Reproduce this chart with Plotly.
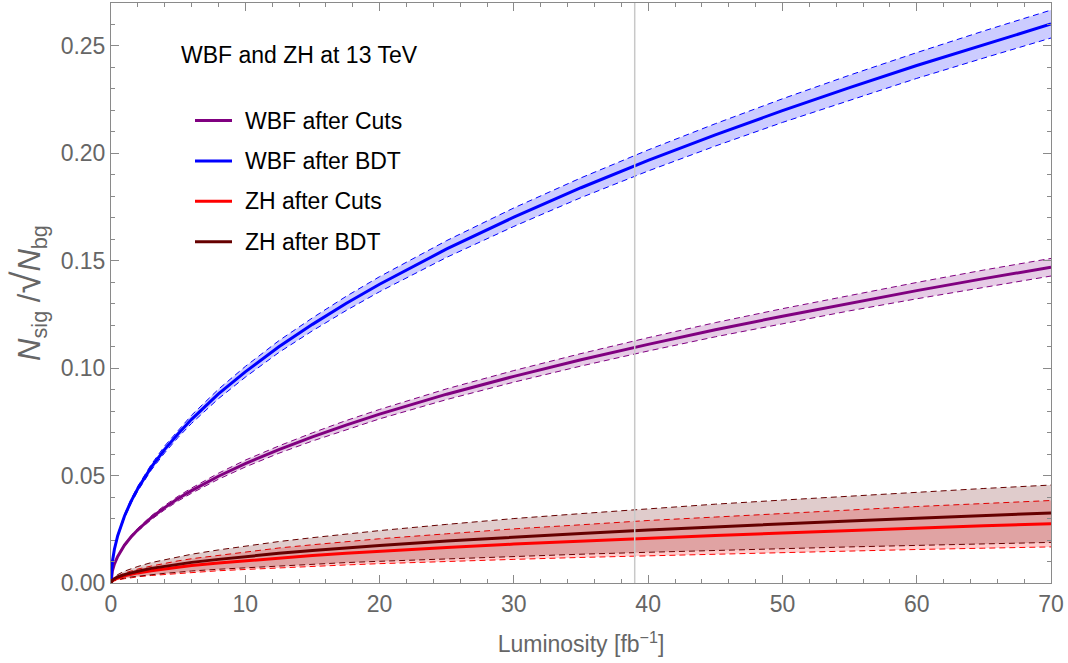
import plotly.graph_objects as go

# Luminosity sample points [fb^-1]
lumi = [0, 0.1, 0.25, 0.5, 1, 1.5, 2, 3, 4, 5, 6, 8, 10, 12.5, 15, 17.5, 20,
        25, 30, 35, 40, 45, 50, 55, 60, 65, 70]

# WBF after BDT (blue)
wbf_bdt = [0, 0.0098, 0.0156, 0.0220, 0.0311, 0.0381, 0.0440, 0.0539, 0.0622, 0.0695,
           0.0762, 0.0880, 0.0983, 0.1100, 0.1204, 0.1301, 0.1391, 0.1555, 0.1703,
           0.1840, 0.1967, 0.2086, 0.2199, 0.2306, 0.2409, 0.2507, 0.2602]
wbf_bdt_hi = [0, 0.0100, 0.0160, 0.0226, 0.0319, 0.0391, 0.0451, 0.0552, 0.0638, 0.0712,
              0.0781, 0.0902, 0.1008, 0.1128, 0.1234, 0.1334, 0.1426, 0.1594, 0.1746,
              0.1886, 0.2016, 0.2138, 0.2254, 0.2364, 0.2469, 0.2570, 0.2667]
wbf_bdt_lo = [0, 0.0096, 0.0152, 0.0215, 0.0303, 0.0371, 0.0429, 0.0526, 0.0606, 0.0678,
              0.0743, 0.0858, 0.0958, 0.1073, 0.1174, 0.1268, 0.1356, 0.1516, 0.1660,
              0.1794, 0.1918, 0.2034, 0.2144, 0.2248, 0.2349, 0.2444, 0.2537]

# WBF after Cuts (purple)
wbf_cuts = [0, 0.0056, 0.0088, 0.0124, 0.0176, 0.0215, 0.0248, 0.0304, 0.0351, 0.0393,
            0.0430, 0.0497, 0.0556, 0.0621, 0.0680, 0.0735, 0.0786, 0.0879, 0.0962,
            0.1039, 0.1111, 0.1179, 0.1242, 0.1303, 0.1361, 0.1417, 0.1470]
wbf_cuts_hi = [0, 0.0058, 0.0090, 0.0127, 0.0181, 0.0221, 0.0255, 0.0313, 0.0361, 0.0404,
               0.0442, 0.0511, 0.0572, 0.0638, 0.0699, 0.0756, 0.0808, 0.0904, 0.0989,
               0.1068, 0.1142, 0.1212, 0.1277, 0.1339, 0.1399, 0.1457, 0.1511]
wbf_cuts_lo = [0, 0.0054, 0.0086, 0.0121, 0.0171, 0.0209, 0.0241, 0.0295, 0.0341, 0.0382,
               0.0418, 0.0483, 0.0540, 0.0604, 0.0661, 0.0714, 0.0764, 0.0854, 0.0935,
               0.1010, 0.1080, 0.1146, 0.1207, 0.1267, 0.1323, 0.1377, 0.1429]

# ZH after BDT (dark red)
zh_bdt = [0, 0.0012, 0.0020, 0.0028, 0.0039, 0.0048, 0.0055, 0.0068, 0.0078, 0.0087,
          0.0096, 0.0110, 0.0123, 0.0138, 0.0151, 0.0163, 0.0174, 0.0195, 0.0214,
          0.0231, 0.0247, 0.0262, 0.0276, 0.0289, 0.0302, 0.0314, 0.0326]
zh_bdt_hi = [0, 0.0017, 0.0028, 0.0039, 0.0055, 0.0067, 0.0077, 0.0095, 0.0109, 0.0122,
             0.0134, 0.0154, 0.0172, 0.0193, 0.0211, 0.0228, 0.0244, 0.0273, 0.0300,
             0.0323, 0.0346, 0.0367, 0.0386, 0.0405, 0.0423, 0.0440, 0.0456]
zh_bdt_lo = [0, 0.0007, 0.0012, 0.0016, 0.0023, 0.0028, 0.0032, 0.0039, 0.0045, 0.0050,
             0.0056, 0.0064, 0.0071, 0.0080, 0.0088, 0.0095, 0.0101, 0.0113, 0.0124,
             0.0134, 0.0143, 0.0152, 0.0160, 0.0168, 0.0175, 0.0182, 0.0189]

# ZH after Cuts (red)
zh_cuts = [0, 0.0010, 0.0017, 0.0023, 0.0033, 0.0040, 0.0047, 0.0057, 0.0066, 0.0074,
           0.0081, 0.0093, 0.0104, 0.0117, 0.0128, 0.0138, 0.0148, 0.0165, 0.0181,
           0.0195, 0.0209, 0.0221, 0.0233, 0.0245, 0.0256, 0.0266, 0.0276]
zh_cuts_hi = [0, 0.0014, 0.0024, 0.0032, 0.0046, 0.0056, 0.0065, 0.0079, 0.0092, 0.0103,
              0.0113, 0.0129, 0.0145, 0.0163, 0.0178, 0.0192, 0.0206, 0.0229, 0.0252,
              0.0271, 0.0291, 0.0307, 0.0324, 0.0341, 0.0356, 0.0370, 0.0384]
zh_cuts_lo = [0, 0.0006, 0.0010, 0.0014, 0.0020, 0.0024, 0.0029, 0.0035, 0.0040, 0.0045,
              0.0049, 0.0057, 0.0063, 0.0071, 0.0078, 0.0084, 0.0090, 0.0101, 0.0110,
              0.0119, 0.0127, 0.0135, 0.0142, 0.0149, 0.0156, 0.0162, 0.0168]

lumi_2016 = 39

legend_names = ["WBF after Cuts", "WBF after BDT", "ZH after Cuts", "ZH after BDT"]
legend_colors = ["#800080", "#0000ff", "#ff0000", "#660000"]

FONT = "Liberation Sans, Arial, sans-serif"
GRAY = "#666666"
FRAME = "#8a8a8a"

# plot-area pixel geometry (for placing legend/title in paper coords)
W, H = 1068, 663
ML, MR, MT, MB = 111, 17, 3, 80
PW, PH = W - ML - MR, H - MT - MB


def px(xp):
    return (xp - ML) / PW


def py(yp):
    return (H - MB - yp) / PH


fig = go.Figure()


def band(lo, hi, color, fill):
    fig.add_trace(go.Scatter(x=lumi, y=lo, mode="lines", showlegend=False, hoverinfo="skip",
                             line=dict(color=color, width=1, dash="6px,4px")))
    fig.add_trace(go.Scatter(x=lumi, y=hi, mode="lines", showlegend=False, hoverinfo="skip",
                             fill="tonexty", fillcolor=fill,
                             line=dict(color=color, width=1, dash="6px,4px")))


band(zh_cuts_lo, zh_cuts_hi, "#ff0000", "rgba(255,0,0,0.2)")
band(zh_bdt_lo, zh_bdt_hi, "#660000", "rgba(102,0,0,0.2)")
band(wbf_cuts_lo, wbf_cuts_hi, "#800080", "rgba(128,0,128,0.2)")
band(wbf_bdt_lo, wbf_bdt_hi, "#0000ff", "rgba(0,0,255,0.2)")

series = [wbf_cuts, wbf_bdt, zh_cuts, zh_bdt]
for name, ys, col in zip(legend_names, series, legend_colors):
    fig.add_trace(go.Scatter(x=lumi, y=ys, mode="lines", name=name, showlegend=False,
                             line=dict(color=col, width=3)))

fig.add_vline(x=lumi_2016, line=dict(color="#c8c8c8", width=1.5))

# legend drawn as line samples + labels
for i, (name, col) in enumerate(zip(legend_names, legend_colors)):
    yy = 120.5 + i * 40.4
    fig.add_shape(type="line", xref="paper", yref="paper",
                  x0=px(195), x1=px(232), y0=py(yy), y1=py(yy),
                  line=dict(color=col, width=3))
    fig.add_annotation(text=name, xref="paper", yref="paper", x=px(243), y=py(yy),
                       xanchor="left", yanchor="middle", showarrow=False,
                       font=dict(family=FONT, size=23, color="black"))

fig.add_annotation(text="WBF and ZH at 13 TeV", xref="paper", yref="paper",
                   x=px(179), y=py(55), xanchor="left", yanchor="middle",
                   showarrow=False, font=dict(family=FONT, size=23, color="black"))

axis_common = dict(showgrid=False, zeroline=False, showline=True, linecolor=FRAME,
                   linewidth=1, mirror="allticks", ticks="inside", ticklen=8,
                   tickcolor=FRAME, tickwidth=1,
                   tickfont=dict(family=FONT, size=23, color=GRAY))

fig.update_xaxes(range=[0, 70], dtick=10, tick0=0,
                 minor=dict(dtick=2, ticks="inside", ticklen=4, tickcolor=FRAME),
                 title=dict(text="Luminosity [fb<sup>−1</sup>]",
                            font=dict(family=FONT, size=23, color=GRAY), standoff=20),
                 **axis_common)
fig.update_yaxes(range=[0, 0.27], dtick=0.05, tick0=0, tickformat=".2f",
                 minor=dict(dtick=0.01, ticks="inside", ticklen=4, tickcolor=FRAME),
                 title=dict(text="<i>N</i><sub>sig</sub> /<span style='font-size:40px'>√</span>"
                                 "<i>N</i><sub>bg</sub>",
                            font=dict(family=FONT, size=31, color=GRAY), standoff=10),
                 **axis_common)

fig.update_layout(
    width=W, height=H,
    margin=dict(l=ML, r=MR, t=MT, b=MB),
    plot_bgcolor="white", paper_bgcolor="white",
    showlegend=False,
)

fig.write_html("out.html")
